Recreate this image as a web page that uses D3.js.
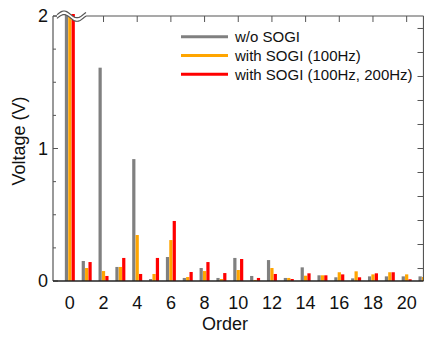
<!DOCTYPE html>
<html>
<head>
<meta charset="utf-8">
<script src="https://cdn.jsdelivr.net/npm/d3@7"></script>
<style>
  html, body { margin: 0; padding: 0; background: #fff; }
  svg { display: block; font-family: "Liberation Sans", Arial, sans-serif; }
</style>
</head>
<body>
<svg id="chart" width="424" height="337"></svg>
<script>
// Harmonic orders on the x axis
const orders = d3.range(0, 22);
// Harmonic amplitude (V) per order; order 0 runs off the top of the axis
const woSogi      = [2.6, 0.151, 1.61, 0.106, 0.92, 0.015, 0.181, 0.023, 0.098, 0.023, 0.174, 0.038, 0.158, 0.023, 0.103, 0.043, 0.028, 0.020, 0.035, 0.035, 0.035, 0.035];
const sogi100     = [2.5, 0.098, 0.075, 0.106, 0.347, 0.053, 0.309, 0.030, 0.075, 0.015, 0.083, 0.008, 0.098, 0.023, 0.040, 0.043, 0.066, 0.073, 0.050, 0.066, 0.050, 0.030];
const sogi100_200 = [2.5, 0.143, 0.038, 0.174, 0.053, 0.174, 0.453, 0.068, 0.143, 0.060, 0.166, 0.023, 0.053, 0.015, 0.058, 0.043, 0.050, 0.028, 0.058, 0.066, 0.013, 0.020];
const seriesNames = ["w/o SOGI", "with SOGI (100Hz)", "with SOGI (100Hz, 200Hz)"];
const seriesColors = ["#808080", "#FFA500", "#FF0000"];
const seriesValues = [woSogi, sogi100, sogi100_200];
// Axis ticks
const xTickLabels = d3.range(0, 21, 2);
const yMajorTicks = [0, 1, 2];
const yMinorTicks = d3.range(0, 2.01, 0.25);
const rightTicks = d3.range(-5, 6);

const svg = d3.select("#chart");
const plotL = 53, plotR = 423.5, plotT = 16, plotB = 281;

const x = d3.scaleLinear().domain([-1, 21]).range([plotL, plotR]);
const y = d3.scaleLinear().domain([0, 2]).range([plotB, plotT]);
const yRight = d3.scaleLinear().domain([-5.52, 5.52]).range([plotB, plotT]);
const inner = d3.scaleBand().domain(d3.range(3)).range([-5, 5]).paddingInner(0.05);

svg.append("defs").append("clipPath").attr("id", "plot")
  .append("rect").attr("x", plotL).attr("y", plotT - 2).attr("width", plotR - plotL).attr("height", plotB - plotT + 2);

// Bars
const barLayer = svg.append("g").attr("clip-path", "url(#plot)");
seriesValues.forEach((vals, si) => {
  barLayer.append("g").selectAll("rect")
    .data(orders.map(o => ({ o, v: vals[o] })))
    .join("rect")
    .attr("x", d => x(d.o) + inner(si))
    .attr("width", inner.bandwidth())
    .attr("y", d => y(d.v))
    .attr("height", d => y(0) - y(d.v))
    .attr("fill", seriesColors[si]);
});

const frame = "#555";

// Left axis with inward major and minor ticks
svg.append("line").attr("x1", plotL).attr("x2", plotL).attr("y1", plotT).attr("y2", plotB)
  .attr("stroke", frame).attr("stroke-width", 1.2);
svg.append("g").selectAll("line").data(yMinorTicks).join("line")
  .attr("x1", plotL).attr("x2", d => plotL + (yMajorTicks.includes(d) ? 5 : 3))
  .attr("y1", d => y(d)).attr("y2", d => y(d))
  .attr("stroke", frame);
svg.append("g").selectAll("text").data(yMajorTicks).join("text")
  .attr("x", 48).attr("y", d => y(d)).attr("dy", "0.36em")
  .attr("text-anchor", "end").attr("font-size", 18).attr("fill", "#111")
  .text(d => d);

// Right axis
svg.append("line").attr("x1", plotR).attr("x2", plotR).attr("y1", plotT).attr("y2", plotB)
  .attr("stroke", frame).attr("stroke-width", 1.2);
svg.append("g").selectAll("line").data(rightTicks).join("line")
  .attr("x1", plotR).attr("x2", plotR - 6)
  .attr("y1", d => yRight(d)).attr("y2", d => yRight(d))
  .attr("stroke", frame);

// Top axis, broken near the left end
const breakX0 = 57, breakX1 = 86;
svg.append("line").attr("x1", plotL).attr("x2", breakX0).attr("y1", plotT).attr("y2", plotT)
  .attr("stroke", frame).attr("stroke-width", 1.2);
svg.append("line").attr("x1", breakX1).attr("x2", plotR).attr("y1", plotT).attr("y2", plotT)
  .attr("stroke", frame).attr("stroke-width", 1.2);
svg.append("g").selectAll("line").data(xTickLabels.filter(d => d > 0)).join("line")
  .attr("x1", d => x(d)).attr("x2", d => x(d)).attr("y1", plotT).attr("y2", plotT + 6)
  .attr("stroke", frame);

// Axis break mark: two wavy strokes with a white gap between them
const wave = d3.range(breakX0, breakX1 + 0.5, 0.5);
const upperY = xx => 14.35 - 3.35 * Math.cos(2 * Math.PI * (xx - 64) / 26);
const gap = 3.6;
const area = d3.area().x(d => d).y0(d => upperY(d) + gap).y1(d => upperY(d));
svg.append("path").datum(wave).attr("d", area).attr("fill", "#fff");
const upperLine = d3.line().x(d => d).y(d => upperY(d));
const lowerLine = d3.line().x(d => d).y(d => upperY(d) + gap);
svg.append("path").datum(wave).attr("d", upperLine).attr("fill", "none").attr("stroke", frame).attr("stroke-width", 1.2);
svg.append("path").datum(wave).attr("d", lowerLine).attr("fill", "none").attr("stroke", frame).attr("stroke-width", 1.2);

// Bottom axis
svg.append("line").attr("x1", plotL).attr("x2", plotR).attr("y1", plotB).attr("y2", plotB)
  .attr("stroke", "#222").attr("stroke-width", 1.5);
svg.append("g").selectAll("text").data(xTickLabels).join("text")
  .attr("x", d => x(d)).attr("y", 309)
  .attr("text-anchor", "middle").attr("font-size", 18).attr("fill", "#111")
  .text(d => d);

// Axis titles
svg.append("text").attr("x", 225).attr("y", 330).attr("text-anchor", "middle")
  .attr("font-size", 18).attr("fill", "#111").text("Order");
svg.append("text").attr("transform", "translate(25,141) rotate(-90)")
  .attr("text-anchor", "middle").attr("font-size", 18).attr("fill", "#111").text("Voltage (V)");

// Legend
const legend = svg.append("g").selectAll("g").data(seriesNames).join("g")
  .attr("transform", (d, i) => `translate(0,${36.7 + i * 18.8})`);
legend.append("line").attr("x1", 181).attr("x2", 228).attr("y1", 0).attr("y2", 0)
  .attr("stroke", (d, i) => seriesColors[i]).attr("stroke-width", 3);
legend.append("text").attr("x", 235).attr("y", 0).attr("dy", "0.35em")
  .attr("font-size", 15).attr("fill", "#111").text(d => d);
</script>
</body>
</html>
